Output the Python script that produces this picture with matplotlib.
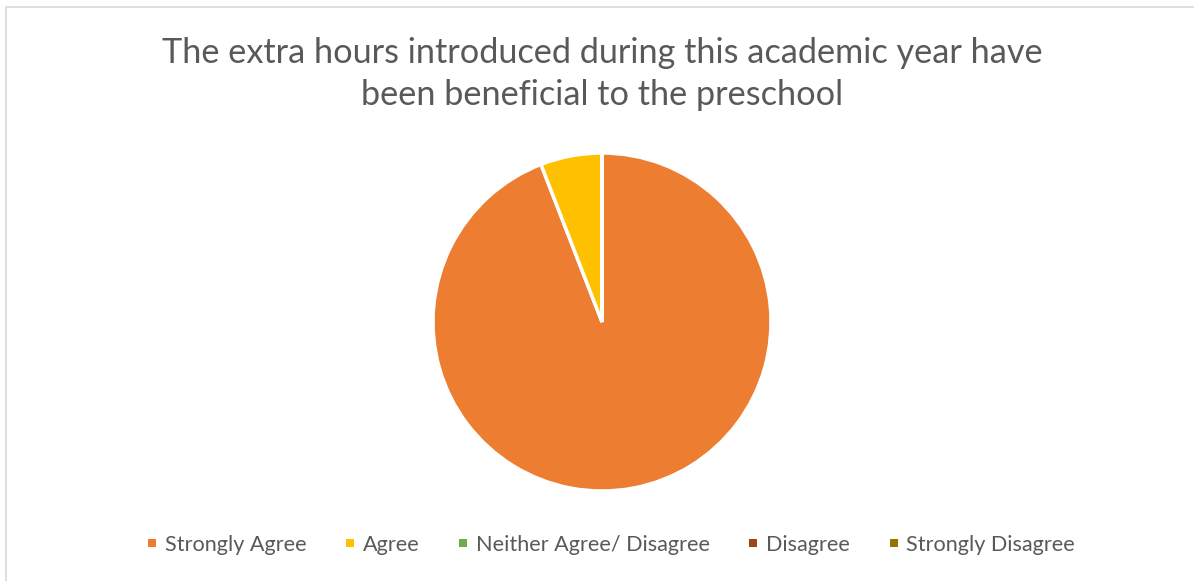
import matplotlib.pyplot as plt
from matplotlib.patches import Rectangle
from matplotlib.lines import Line2D

categories = ["Strongly Agree", "Agree", "Neither Agree/ Disagree", "Disagree", "Strongly Disagree"]
responses = [16, 1, 0, 0, 0]
colors = ["#ED7D31", "#FFC000", "#70AD47", "#9E480E", "#997300"]
title = "The extra hours introduced during this academic year have\nbeen beneficial to the preschool"

plt.rcParams['font.family'] = ['Lato', 'DejaVu Sans']

W, H = 1194, 581
fig = plt.figure(figsize=(W / 100, H / 100), dpi=100)

# chart frame
fig.patches.append(Rectangle((6 / W, -0.1), 1.2, 1 - 7 / H + 0.1, transform=fig.transFigure,
                             facecolor="none", edgecolor="#D9D9D9", linewidth=1.2))

fig.text(602 / W, 1 - 74 / H, title, ha="center", va="center", fontsize=24.7,
         color="#595959", linespacing=1.4)

r = 169
ax = fig.add_axes([(602 - r) / W, 1 - (322 + r) / H, 2 * r / W, 2 * r / H])
wedges, _ = ax.pie(responses, colors=colors, startangle=90, counterclock=False,
                   wedgeprops=dict(edgecolor="white", linewidth=2.5), radius=1)
ax.set_xlim(-1, 1)
ax.set_ylim(-1, 1)
ax.set_aspect("equal")
ax.axis("off")

# square legend keys, one per wedge (zero-size wedges included)
keys = [Line2D([], [], marker="s", linestyle="", markersize=6, markeredgewidth=0,
               color=w.get_facecolor()) for w in wedges]
fig.legend(keys, categories, loc="center", bbox_to_anchor=(611 / W, 1 - 545 / H),
           ncol=5, frameon=False, fontsize=15.6, handlelength=0.45,
           handletextpad=0.35, columnspacing=1.8, labelcolor="#595959")

fig.savefig("out.png", dpi=100)
